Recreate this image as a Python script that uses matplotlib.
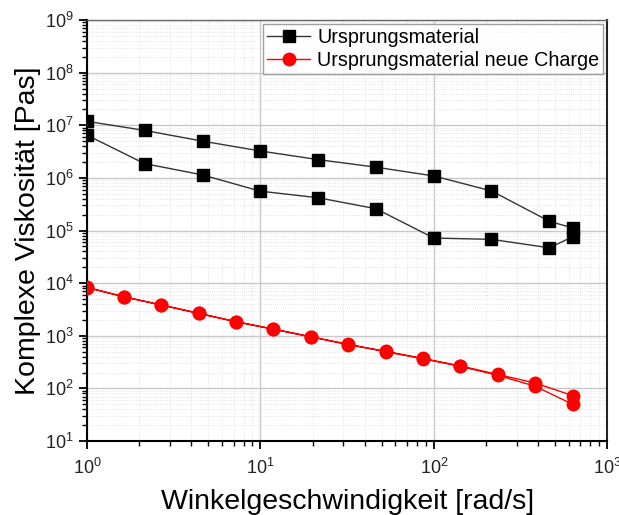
import matplotlib

matplotlib.use("Agg")
import matplotlib.pyplot as plt
from matplotlib.ticker import LogLocator, NullFormatter

plt.rcParams["font.family"] = ["Liberation Sans", "DejaVu Sans"]
plt.rcParams["mathtext.fontset"] = "custom"
plt.rcParams["mathtext.rm"] = "Liberation Sans"
plt.rcParams["mathtext.it"] = "Liberation Sans"

# Ursprungsmaterial: up-sweep then down-sweep (hysteresis loop)
omega_orig = [1.0, 2.15, 4.64, 10.0, 21.5, 46.4, 100.0, 215.0, 464.0, 631.0,
              631.0, 464.0, 215.0, 100.0, 46.4, 21.5, 10.0, 4.64, 2.15, 1.0]
eta_orig = [1.19e7, 8.0e6, 5.0e6, 3.25e6, 2.23e6, 1.6e6, 1.09e6, 5.66e5, 1.5e5, 1.12e5,
            7.6e4, 4.7e4, 6.8e4, 7.2e4, 2.6e5, 4.2e5, 5.6e5, 1.14e6, 1.87e6, 6.5e6]

# Ursprungsmaterial neue Charge
omega_new = [1.0, 1.64, 2.69, 4.42, 7.26, 11.9, 19.6, 32.1, 52.7, 86.6, 142.0, 233.0, 383.0, 631.0,
             631.0, 383.0, 233.0, 142.0, 86.6, 52.7, 32.1, 19.6, 11.9, 7.26, 4.42, 2.69, 1.64, 1.0]
eta_new = [8300, 5500, 3850, 2670, 1850, 1340, 957, 686, 505, 371, 268, 184, 127, 73,
           50, 110, 178, 262, 365, 500, 680, 950, 1330, 1840, 2650, 3830, 5480, 8250]

fig = plt.figure(figsize=(6.19, 5.15), dpi=100)
ax = fig.add_axes([0.1405, 0.1437, 0.8405, 0.8173])

ax.plot(omega_orig, eta_orig, color="#333333", lw=1.0, marker="s", ms=9,
        mfc="black", mec="black", label="Ursprungsmaterial", zorder=3)
ax.plot(omega_new, eta_new, color="red", lw=1.0, marker="o", ms=9,
        mfc="red", mec="red", label="Ursprungsmaterial neue Charge", zorder=3)

ax.set_xscale("log")
ax.set_yscale("log")
ax.set_xlim(1, 1000)
ax.set_ylim(10, 1e9)

ax.xaxis.set_major_locator(LogLocator(base=10, numticks=10))
ax.yaxis.set_major_locator(LogLocator(base=10, numticks=20))
ax.xaxis.set_minor_locator(LogLocator(base=10, subs=range(2, 10), numticks=20))
ax.yaxis.set_minor_locator(LogLocator(base=10, subs=range(2, 10), numticks=40))
ax.xaxis.set_minor_formatter(NullFormatter())
ax.yaxis.set_minor_formatter(NullFormatter())

ax.grid(True, which="major", color="#c8c8c8", lw=1.0, ls="-")
ax.grid(True, which="minor", color="#dcdcdc", lw=0.6, ls=":")
ax.set_axisbelow(True)

ax.tick_params(which="major", direction="out", length=6, width=1.3, labelsize=13,
               colors="black", labelcolor="#222222")
ax.tick_params(which="minor", direction="out", length=3.5, width=1.0)
ax.tick_params(axis="x", pad=6)

for side in ("left", "bottom"):
    ax.spines[side].set_linewidth(1.5)
    ax.spines[side].set_color("black")
ax.spines["right"].set_linewidth(1.5)
ax.spines["right"].set_color("#222222")
ax.spines["top"].set_linewidth(1.0)
ax.spines["top"].set_color("#666666")

ax.set_xlabel("Winkelgeschwindigkeit [rad/s]", fontsize=20.5, labelpad=8)
ax.set_ylabel("Komplexe Viskosität [Pas]", fontsize=20.5, labelpad=3)

leg = ax.legend(loc="upper right", fontsize=14.2, frameon=True, fancybox=False,
                edgecolor="#888888", borderaxespad=0.2, handlelength=2.2,
                borderpad=0.2, labelspacing=0.2, handletextpad=0.35)
leg.get_frame().set_linewidth(1.0)

fig.savefig("out.png", dpi=100)
